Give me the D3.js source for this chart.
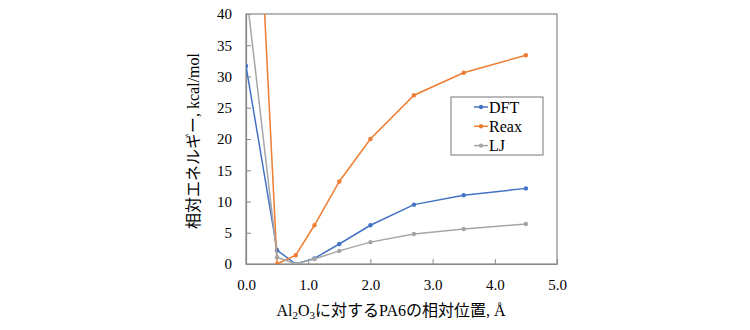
<!DOCTYPE html>
<html><head><meta charset="utf-8">
<script src="https://cdn.jsdelivr.net/npm/d3@7"></script>
<style>body{margin:0;background:#fff}</style>
</head><body>
<svg id="c" width="750" height="330"></svg>
<script>
const xs = [0, 0.5, 0.8, 1.1, 1.5, 2.0, 2.7, 3.5, 4.5];
const dftVals = [31.7, 2.2, 0, 0.9, 3.2, 6.2, 9.5, 11.0, 12.1];
const reaxVals = [100, 0, 1.4, 6.2, 13.2, 20.0, 27.0, 30.6, 33.4];
const ljVals = [44, 1.1, 0, 0.8, 2.1, 3.5, 4.8, 5.6, 6.4];
const seriesNames = ["DFT", "Reax", "LJ"];
const colors = ["#4472C4", "#ED7D31", "#A5A5A5"];
const xTicks = [0, 1, 2, 3, 4, 5];
const yTicks = [0, 5, 10, 15, 20, 25, 30, 35, 40];

const svg = d3.select("#c");
const L = 246, R = 557, T = 14, B = 264;
const x = d3.scaleLinear().domain([0, 5]).range([L, R]);
const y = d3.scaleLinear().domain([0, 40]).range([B, T]);
const serif = "'Liberation Serif','Times New Roman',serif";

svg.append("defs").append("clipPath").attr("id","clip")
  .append("rect").attr("x",L).attr("y",T).attr("width",R-L).attr("height",B-T);

svg.append("rect").attr("x",L).attr("y",T).attr("width",R-L).attr("height",B-T)
  .attr("fill","none").attr("stroke","#888").attr("stroke-width",1.2);

const xAxis = svg.append("g").attr("transform",`translate(0,${B})`)
  .call(d3.axisBottom(x).tickValues(xTicks).tickFormat(d3.format(".1f")).tickSizeInner(-5).tickSizeOuter(0).tickPadding(15));
const yAxis = svg.append("g").attr("transform",`translate(${L},0)`)
  .call(d3.axisLeft(y).tickValues(yTicks).tickFormat(d3.format("d")).tickSizeInner(-5).tickSizeOuter(0).tickPadding(14));
[xAxis, yAxis].forEach(a => {
  a.attr("font-family", null).attr("font-size", null)
   .style("font-family", serif).style("font-size", "15px");
  a.select(".domain").attr("stroke","#888").attr("stroke-width",1.2);
  a.selectAll(".tick line").attr("stroke","#888");
  a.selectAll(".tick text").style("font-family",serif).style("font-size","15px").attr("fill","#000");
});

const data = [dftVals, reaxVals, ljVals];
const line = d3.line().x((d,i)=>x(xs[i])).y(d=>y(d));
const plot = svg.append("g").attr("clip-path","url(#clip)");
data.forEach((vals, k) => {
  plot.append("path").datum(vals).attr("d", line).attr("fill","none")
    .attr("stroke", colors[k]).attr("stroke-width",1.5);
  plot.selectAll(null).data(vals).enter().append("circle")
    .attr("cx",(d,i)=>x(xs[i])).attr("cy",d=>y(d)).attr("r",2.2).attr("fill",colors[k]);
});

const lg = svg.append("g");
lg.append("rect").attr("x",451).attr("y",97).attr("width",92).attr("height",58)
  .attr("fill","#fff").attr("stroke","#777").attr("stroke-width",1);
seriesNames.forEach((n,k) => {
  const yy = 107 + k*19.3;
  lg.append("line").attr("x1",474).attr("x2",488).attr("y1",yy).attr("y2",yy)
    .attr("stroke",colors[k]).attr("stroke-width",1.5);
  lg.append("circle").attr("cx",481).attr("cy",yy).attr("r",2.2).attr("fill",colors[k]);
  lg.append("text").attr("x",489).attr("y",yy+5.5).text(n)
    .style("font-family",serif).style("font-size","16px").attr("fill","#000");
});

const xt = svg.append("text").attr("x",391).attr("y",316).attr("text-anchor","middle")
  .style("font-family",serif+",'Noto Sans CJK JP'").style("font-size","16px").attr("fill","#000");
xt.append("tspan").text("Al");
xt.append("tspan").text("2").style("font-size","11px").attr("dy",3);
xt.append("tspan").text("O").attr("dy",-3);
xt.append("tspan").text("3").style("font-size","11px").attr("dy",3);
xt.append("tspan").text("に対するPA6の相対位置, Å").attr("dy",-3);

svg.append("text").attr("transform","translate(199,141) rotate(-90)").attr("text-anchor","middle")
  .style("font-family",serif+",'Noto Sans CJK JP'").style("font-size","16px").attr("fill","#000")
  .text("相対エネルギー, kcal/mol");
</script>
</body></html>
